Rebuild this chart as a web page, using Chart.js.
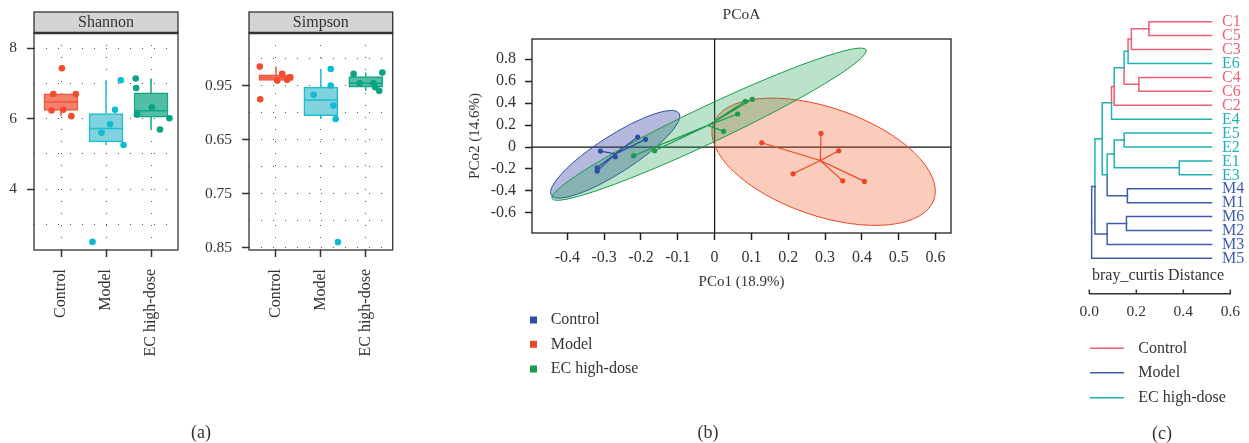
<!DOCTYPE html>
<html><head><meta charset="utf-8">
<script src="https://cdn.jsdelivr.net/npm/chart.js@4.4.1/dist/chart.umd.min.js"></script>
<style>
html,body{margin:0;padding:0;background:#fff;width:1249px;height:443px;overflow:hidden;position:relative;}
canvas{position:absolute;top:0;}
.lab{position:absolute;font-family:"Liberation Serif","Times New Roman",serif;font-size:18px;line-height:22px;color:#333;transform:translateX(-50%);white-space:nowrap;}
</style></head><body>
<canvas id="shannon" style="left:0px" width="190" height="443"></canvas>
<canvas id="simpson" style="left:200px" width="205" height="443"></canvas>
<canvas id="pcoa" style="left:460px" width="510" height="443"></canvas>
<canvas id="dendro" style="left:1070px" width="179" height="443"></canvas>
<div class="lab" style="left:201px;top:421px">(a)</div>
<div class="lab" style="left:708px;top:421px">(b)</div>
<div class="lab" style="left:1162px;top:422px">(c)</div>
<script>
// ---------------- DATA ----------------
const groups = ['Control', 'Model', 'EC high-dose'];

// Panel (a) Shannon
const shannonPoints = [[7.43, 6.70, 6.70, 6.23, 6.25, 6.07], [7.09, 6.25, 5.84, 5.60, 5.25, 2.50], [7.14, 6.87, 6.32, 6.12, 6.01, 5.69]];
const shannonJitter = [[0.02, -0.17, 0.33, -0.21, 0.05, 0.23], [0.33, 0.20, 0.09, -0.10, 0.39, -0.30], [-0.34, -0.33, 0.02, -0.31, 0.41, 0.20]];
const shannonQ1 = [6.235, 5.34, 6.04];
const shannonMedian = [6.47, 5.72, 6.22];
const shannonQ3 = [6.70, 6.14, 6.73];
const shannonLow = [6.07, 5.25, 5.69];
const shannonHigh = [6.70, 7.09, 7.14];
const shannonGrid = [3, 4, 5, 6, 7, 8];
const shannonTickValues = [4, 6, 8];
const shannonTickLabels = ['4', '6', '8'];

// Panel (a) Simpson
const simpsonPoints = [[0.9679, 0.9377, 0.9611, 0.9549, 0.9556, 0.9580], [0.9657, 0.9503, 0.9417, 0.9318, 0.9194, 0.8053], [0.9611, 0.9623, 0.9525, 0.9525, 0.9488, 0.9454]];
const simpsonJitter = [[-0.36, -0.35, 0.14, 0.03, 0.25, 0.32], [0.22, 0.22, -0.16, 0.28, 0.33, 0.38], [-0.27, 0.37, -0.14, 0.17, 0.21, 0.30]];
const simpsonQ1 = [0.9550, 0.9225, 0.9488];
const simpsonMedian = [0.9577, 0.9370, 0.9525];
const simpsonQ3 = [0.9602, 0.9488, 0.9586];
const simpsonLow = [0.9549, 0.9194, 0.9454];
const simpsonHigh = [0.9679, 0.9657, 0.9623];
const simpsonGrid = [0.8, 0.825, 0.85, 0.875, 0.9, 0.925, 0.95, 0.975];
const simpsonTickValues = [0.95, 0.90, 0.85, 0.80];
const simpsonTickLabels = ['0.95', '0.65', '0.75', '0.85'];

// Panel (b) PCoA
const pcoaControlX = [-0.209, -0.1875, -0.310, -0.270, -0.319, -0.319];
const pcoaControlY = [0.091, 0.070, -0.037, -0.088, -0.189, -0.219];
const pcoaModelX = [0.128, 0.289, 0.337, 0.213, 0.348, 0.407];
const pcoaModelY = [0.039, 0.125, -0.034, -0.244, -0.308, -0.313];
const pcoaEcX = [0.0834, 0.1025, 0.0625, 0.0245, -0.220, -0.163];
const pcoaEcY = [0.417, 0.435, 0.301, 0.143, -0.079, -0.034];
const pcoaXTicks = [-0.4, -0.3, -0.2, -0.1, 0, 0.1, 0.2, 0.3, 0.4, 0.5, 0.6];
const pcoaYTicks = [-0.6, -0.4, -0.2, 0, 0.2, 0.4, 0.6, 0.8];
// confidence ellipses: centre and two conjugate half-axes (data units)
const ellipseCenter = [[-0.270, -0.066], [0.296, -0.134], [-0.015, 0.208]];
const ellipseAxisA = [[0.1734, 0.3731], [0.2997, -0.3452], [0.4266, 0.6772]];
const ellipseAxisB = [[0.0271, -0.1423], [-0.0476, -0.4658], [0.0209, -0.1486]];

// Panel (c) dendrogram
const dendroLeaves = ['C1', 'C5', 'C3', 'E6', 'C4', 'C6', 'C2', 'E4', 'E5', 'E2', 'E1', 'E3', 'M4', 'M1', 'M6', 'M2', 'M3', 'M5'];
const dendroLeafPos = 0.52;
const dendroMerge = [['C1', 'C5'], [0, 'C3'], [1, 'E6'], ['C4', 'C6'], [2, 3], [4, 'C2'], [5, 'E4'], ['E5', 'E2'], ['E1', 'E3'], [7, 8], ['M4', 'M1'], [9, 10], [6, 11], ['M6', 'M2'], [13, 'M3'], [12, 14], [15, 'M5']];
const dendroNodePos = [0.2535, 0.179, 0.165, 0.211, 0.148, 0.106, 0.0946, 0.148, 0.383, 0.106, 0.162, 0.076, 0.055, 0.158, 0.076, 0.024, 0.010];
const dendroNodeGroup = ['C', 'C', 'E', 'C', 'E', 'C', 'E', 'E', 'E', 'E', 'M', 'E', 'E', 'M', 'M', 'M', 'M'];
const dendroTicks = [0, 0.2, 0.4, 0.6];

// ---------------- STYLE ----------------
const SERIF = '"Liberation Serif", "Times New Roman", "DejaVu Serif", serif';
Chart.defaults.font.family = SERIF;
Chart.defaults.color = '#333';
const boxFill = ['#F5806C', '#80D3DE', '#52BFA4'];
const boxLine = ['#F0553A', '#1DBCCF', '#12A586'];
const pointColor = ['#F24B2D', '#0FBBD0', '#0BA383'];
const pcoaColors = ['#2B4FA3', '#EE4526', '#1A9B4B'];
const ellipseFill = ['rgba(62,70,168,0.38)', 'rgba(238,90,40,0.31)', 'rgba(30,160,80,0.30)'];
const dendroColors = {C: '#EE5F76', E: '#1FB2B4', M: '#3E5DAD'};

const boxStore = {
  shannon: {strip: 'Shannon', q1: shannonQ1, med: shannonMedian, q3: shannonQ3, lo: shannonLow, hi: shannonHigh},
  simpson: {strip: 'Simpson', q1: simpsonQ1, med: simpsonMedian, q3: simpsonQ3, lo: simpsonLow, hi: simpsonHigh}
};

const boxPlugin = {
  id: 'boxExtras',
  afterDatasetDraw(chart, args) {
    if (args.index !== 0) return;
    const s = boxStore[chart.canvas.id];
    const {ctx, scales: {x, y}} = chart;
    ctx.save();
    ctx.lineWidth = 1.5;
    groups.forEach((g, i) => {
      const cx = x.getPixelForValue(i);
      ctx.strokeStyle = boxLine[i];
      ctx.beginPath();
      const ym = y.getPixelForValue(s.med[i]);
      ctx.moveTo(cx - 16.5, ym); ctx.lineTo(cx + 16.5, ym);
      ctx.moveTo(cx, y.getPixelForValue(s.q3[i])); ctx.lineTo(cx, y.getPixelForValue(s.hi[i]));
      ctx.moveTo(cx, y.getPixelForValue(s.q1[i])); ctx.lineTo(cx, y.getPixelForValue(s.lo[i]));
      ctx.stroke();
    });
    ctx.restore();
  },
  afterDraw(chart) {
    const s = boxStore[chart.canvas.id];
    const {ctx, chartArea: {left, right, top, bottom}} = chart;
    ctx.save();
    ctx.fillStyle = '#D4D4D4';
    ctx.fillRect(left, top - 21, right - left, 21);
    ctx.strokeStyle = '#333'; ctx.lineWidth = 1.3;
    ctx.strokeRect(left, top - 21, right - left, 21);
    ctx.strokeRect(left, top, right - left, bottom - top);
    ctx.lineWidth = 2.4;
    ctx.beginPath(); ctx.moveTo(left, top); ctx.lineTo(right, top); ctx.stroke();
    ctx.fillStyle = '#333';
    ctx.font = '16px ' + SERIF;
    ctx.textAlign = 'center'; ctx.textBaseline = 'middle';
    ctx.fillText(s.strip, (left + right) / 2, top - 10);
    ctx.restore();
  }
};

function boxChart(id, pts, jit, q1, q3, yMin, yMax, yGrid, yTickVals, yTickLabels, yWidth, padRight) {
  const datasets = [{
    type: 'bar',
    data: groups.map((g, i) => ({x: i, y: [q1[i], q3[i]]})),
    backgroundColor: boxFill, borderColor: boxLine, borderWidth: 1.5,
    borderSkipped: false, barThickness: 34, order: 2
  }];
  groups.forEach((g, i) => datasets.push({
    type: 'scatter', label: g,
    data: pts[i].map((v, j) => ({x: i + jit[i][j], y: v})),
    backgroundColor: pointColor[i], borderColor: pointColor[i], borderWidth: 0,
    pointRadius: 3.3, order: 1
  }));
  const isTick = v => yTickVals.findIndex(t => Math.abs(t - v) < 1e-6);
  return new Chart(document.getElementById(id), {
    type: 'bar',
    data: {datasets},
    options: {
      responsive: false, animation: false, devicePixelRatio: 1,
      layout: {padding: {top: 33, right: padRight, left: 0, bottom: 0}},
      plugins: {legend: {display: false}, tooltip: {enabled: false}},
      scales: {
        x: {
          type: 'linear', min: -0.6, max: 2.6, offset: false,
          afterBuildTicks: s => { s.ticks = groups.map((g, i) => ({value: i})); },
          afterFit: s => { s.height = 443 - 250; },
          ticks: {autoSkip: false, minRotation: 90, maxRotation: 90, padding: 12, font: {size: 16}, color: '#333',
            callback: v => groups[v]},
          grid: {offset: false, color: '#555', lineWidth: 1, tickLength: 7, tickColor: '#333', tickWidth: 1.5, tickBorderDash: []},
          border: {display: false, dash: [1, 11]}
        },
        y: {
          type: 'linear', min: yMin, max: yMax,
          afterBuildTicks: s => { s.ticks = yGrid.map(v => ({value: v})); },
          afterFit: s => { s.width = yWidth; },
          ticks: {padding: 10, font: {size: 15.5}, color: '#333',
            callback: v => { const k = isTick(v); return k >= 0 ? yTickLabels[k] : ''; }},
          grid: {color: '#555', lineWidth: 1, tickLength: 7, tickWidth: 1.5, tickBorderDash: [],
            tickColor: c => (c.tick && isTick(c.tick.value) >= 0) ? '#333' : 'rgba(0,0,0,0)'},
          border: {display: false, dash: [1, 11]}
        }
      }
    },
    plugins: [boxPlugin]
  });
}

boxChart('shannon', shannonPoints, shannonJitter, shannonQ1, shannonQ3, 2.27, 8.43,
  shannonGrid, shannonTickValues, shannonTickLabels, 34, 12);
boxChart('simpson', simpsonPoints, simpsonJitter, simpsonQ1, simpsonQ3, 0.798, 0.999,
  simpsonGrid, simpsonTickValues, simpsonTickLabels, 49, 12.3);

// ---------------- PCoA ----------------
const pcoaX = [pcoaControlX, pcoaModelX, pcoaEcX];
const pcoaY = [pcoaControlY, pcoaModelY, pcoaEcY];
const mean = a => a.reduce((s, v) => s + v, 0) / a.length;

const pcoaPlugin = {
  id: 'pcoaExtras',
  beforeDatasetsDraw(chart) {
    const {ctx, chartArea: a, scales: {x, y}} = chart;
    ctx.save();
    ctx.strokeStyle = '#111'; ctx.lineWidth = 1.2;
    const x0 = x.getPixelForValue(0), y0 = y.getPixelForValue(0);
    ctx.beginPath();
    ctx.moveTo(x0, a.top); ctx.lineTo(x0, a.bottom);
    ctx.moveTo(a.left, y0); ctx.lineTo(a.right, y0);
    ctx.stroke();
    [0, 1, 2].forEach(i => {
      const c = ellipseCenter[i], A = ellipseAxisA[i], B = ellipseAxisB[i];
      const px = x.getPixelForValue(c[0]), py = y.getPixelForValue(c[1]);
      const ax = x.getPixelForValue(c[0] + A[0]) - px, ay = y.getPixelForValue(c[1] + A[1]) - py;
      const bx = x.getPixelForValue(c[0] + B[0]) - px, by = y.getPixelForValue(c[1] + B[1]) - py;
      ctx.save();
      ctx.beginPath();
      ctx.transform(ax, ay, bx, by, px, py);
      ctx.arc(0, 0, 1, 0, Math.PI * 2);
      ctx.restore();
      ctx.fillStyle = ellipseFill[i];
      ctx.fill();
      ctx.strokeStyle = pcoaColors[i]; ctx.lineWidth = 1;
      ctx.stroke();
    });
    [0, 1, 2].forEach(i => {
      const cx = x.getPixelForValue(mean(pcoaX[i])), cy = y.getPixelForValue(mean(pcoaY[i]));
      ctx.strokeStyle = pcoaColors[i]; ctx.lineWidth = 1.2;
      ctx.beginPath();
      pcoaX[i].forEach((v, j) => {
        ctx.moveTo(cx, cy);
        ctx.lineTo(x.getPixelForValue(v), y.getPixelForValue(pcoaY[i][j]));
      });
      ctx.stroke();
    });
    ctx.restore();
  },
  afterDraw(chart) {
    const {ctx, chartArea: a} = chart;
    ctx.save();
    ctx.strokeStyle = '#222'; ctx.lineWidth = 1.3;
    ctx.strokeRect(a.left, a.top, a.right - a.left, a.bottom - a.top);
    ctx.fillStyle = '#333';
    ctx.font = '15.5px ' + SERIF;
    ctx.textAlign = 'center'; ctx.textBaseline = 'middle';
    ctx.fillText('PCoA', (a.left + a.right) / 2, 15);
    ctx.font = '16px ' + SERIF;
    ctx.textAlign = 'left';
    const ly = [320, 344.3, 369];
    groups.forEach((g, i) => {
      ctx.fillStyle = pcoaColors[i];
      ctx.fillRect(70, ly[i] - 3.5, 7, 7);
      ctx.fillStyle = '#333';
      ctx.fillText(g, 90.7, ly[i]);
    });
    ctx.restore();
  }
};

new Chart(document.getElementById('pcoa'), {
  type: 'scatter',
  data: {datasets: groups.map((g, i) => ({
    label: g,
    data: pcoaX[i].map((v, j) => ({x: v, y: pcoaY[i][j]})),
    backgroundColor: pcoaColors[i], borderColor: pcoaColors[i], borderWidth: 0, pointRadius: 2.6
  }))},
  options: {
    responsive: false, animation: false, devicePixelRatio: 1,
    layout: {padding: {top: 39, right: 19, left: 0, bottom: 0}},
    plugins: {legend: {display: false}, tooltip: {enabled: false}},
    scales: {
      x: {
        type: 'linear', min: -0.496, max: 0.642,
        afterBuildTicks: s => { s.ticks = pcoaXTicks.map(v => ({value: v})); },
        afterFit: s => { s.height = 443 - 233; },
        ticks: {padding: 8, font: {size: 16}, color: '#333', maxRotation: 0,
          callback: v => Math.abs(v) < 1e-9 ? '0' : v.toFixed(1)},
        grid: {drawOnChartArea: false, tickLength: 7, tickColor: '#222', tickWidth: 1.5},
        border: {display: false},
        title: {display: true, text: 'PCo1 (18.9%)', font: {size: 15}, color: '#333', padding: {top: 0, bottom: 152}}
      },
      y: {
        type: 'linear', min: -0.783, max: 0.984,
        afterBuildTicks: s => { s.ticks = pcoaYTicks.map(v => ({value: v})); },
        afterFit: s => { s.width = 72; },
        ticks: {padding: 9, font: {size: 16}, color: '#333',
          callback: v => Math.abs(v) < 1e-9 ? '0' : v.toFixed(1)},
        grid: {drawOnChartArea: false, tickLength: 7, tickColor: '#222', tickWidth: 1.5},
        border: {display: false},
        title: {display: true, text: 'PCo2 (14.6%)', font: {size: 15}, color: '#333', padding: {top: 6, bottom: 0}}
      }
    }
  },
  plugins: [pcoaPlugin]
});

// ---------------- Dendrogram ----------------
const dendroPlugin = {
  id: 'dendroExtras',
  afterDatasetsDraw(chart) {
    const {ctx, chartArea: a, scales: {x, y}} = chart;
    const nodeY = [];
    const childInfo = c => {
      if (typeof c === 'string') {
        const i = dendroLeaves.indexOf(c);
        return {y: i, pos: dendroLeafPos, g: c[0]};
      }
      return {y: nodeY[c], pos: dendroNodePos[c], g: dendroNodeGroup[c]};
    };
    dendroMerge.forEach((m, k) => {
      nodeY[k] = (childInfo(m[0]).y + childInfo(m[1]).y) / 2;
    });
    ctx.save();
    ctx.lineWidth = 1.5; ctx.lineCap = 'square';
    dendroMerge.forEach((m, k) => {
      const nx = x.getPixelForValue(dendroNodePos[k]);
      const ny = y.getPixelForValue(nodeY[k]);
      m.forEach(c => {
        const ci = childInfo(c);
        const cy = y.getPixelForValue(ci.y);
        ctx.strokeStyle = dendroColors[ci.g];
        ctx.beginPath();
        ctx.moveTo(nx, ny); ctx.lineTo(nx, cy);
        ctx.lineTo(x.getPixelForValue(ci.pos), cy);
        ctx.stroke();
      });
    });
    ctx.font = '16px ' + SERIF;
    ctx.textAlign = 'left'; ctx.textBaseline = 'middle';
    dendroLeaves.forEach((l, i) => {
      ctx.fillStyle = dendroColors[l[0]];
      ctx.fillText(l, x.getPixelForValue(dendroLeafPos) + 10.5, y.getPixelForValue(i) + 0.5);
    });
    // distance axis ticks (pointing up)
    ctx.strokeStyle = '#333'; ctx.lineWidth = 1.5; ctx.lineCap = 'butt';
    ctx.beginPath();
    dendroTicks.forEach(t => {
      const tx = x.getPixelForValue(t);
      ctx.moveTo(tx, a.bottom); ctx.lineTo(tx, a.bottom - 4.5);
    });
    ctx.stroke();
    ctx.fillStyle = '#333';
    ctx.font = '16px ' + SERIF;
    ctx.textAlign = 'center';
    ctx.fillText('bray_curtis Distance', 88, 276);
    // legend
    ctx.textAlign = 'left';
    const ly = [348.3, 372.7, 397.7];
    ['C', 'M', 'E'].forEach((g, i) => {
      ctx.strokeStyle = dendroColors[g]; ctx.lineWidth = 1.6;
      ctx.beginPath(); ctx.moveTo(20, ly[i]); ctx.lineTo(54, ly[i]); ctx.stroke();
      ctx.fillStyle = '#333';
      ctx.fillText(groups[i], 68.3, ly[i]);
    });
    ctx.restore();
  }
};

new Chart(document.getElementById('dendro'), {
  type: 'scatter',
  data: {datasets: [{
    data: dendroLeaves.map((l, i) => ({x: dendroLeafPos, y: i})),
    pointRadius: 0, backgroundColor: 'rgba(0,0,0,0)'
  }]},
  options: {
    responsive: false, animation: false, devicePixelRatio: 1,
    layout: {padding: {top: 10, right: 17.7, left: 19.3, bottom: 0}},
    plugins: {legend: {display: false}, tooltip: {enabled: false}},
    scales: {
      x: {
        type: 'linear', min: 0, max: 0.6,
        afterBuildTicks: s => { s.ticks = dendroTicks.map(v => ({value: v})); },
        afterFit: s => { s.height = 443 - 294; },
        ticks: {padding: 9, font: {size: 15.5}, color: '#333', maxRotation: 0, callback: v => v.toFixed(1)},
        grid: {drawOnChartArea: false, drawTicks: false},
        border: {display: true, color: '#333', width: 1.5}
      },
      y: {type: 'linear', display: false, min: -0.84, max: 19.56, reverse: true}
    }
  },
  plugins: [dendroPlugin]
});
</script>
</body></html>
